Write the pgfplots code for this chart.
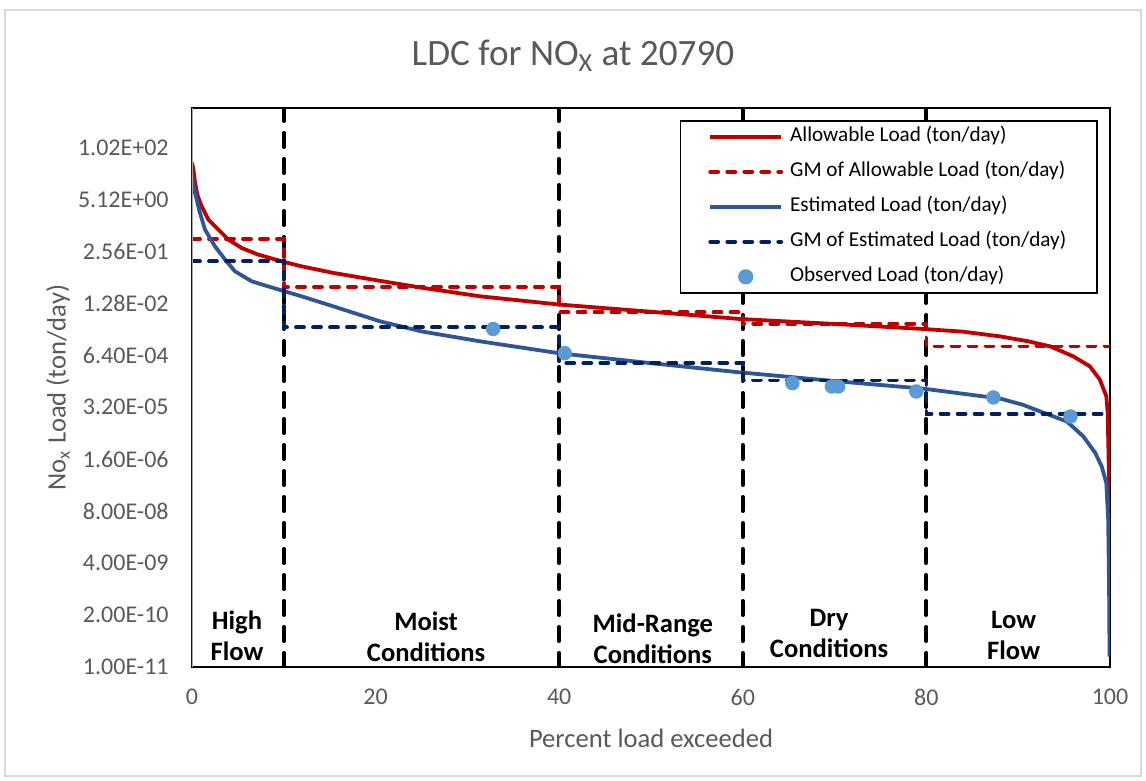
\documentclass[border=0pt]{standalone}
\usepackage{pgfplots}
\pgfplotsset{compat=1.18}
\usepackage{fontspec}
\setmainfont{Carlito}
\definecolor{allowred}{HTML}{C00000}
\definecolor{estblue}{HTML}{2F5597}
\definecolor{gmnavy}{HTML}{002060}
\definecolor{obsblue}{HTML}{5B9BD5}
\definecolor{txtgray}{HTML}{595959}
\begin{document}
\begin{tikzpicture}
\path[use as bounding box] (-96pt,-57pt) rectangle (477pt,333.5pt);
\draw[color=black!15, line width=0.6pt] (-93.5pt,-54.5pt) rectangle (474.5pt,328.5pt);
\node[font=\fontsize{18.6}{22}\selectfont, text=txtgray, anchor=base] at (190.5pt,300.5pt) {LDC for NO\textsubscript{X} at 20790};
\begin{axis}[
    scale only axis,
    width=459pt, height=279.5pt,
    xmin=0, xmax=100,
    ymode=log, ymin=1e-11, ymax=1e3,
    xtick={0,20,40,60,80,100},
    ytick={1e-11,2e-10,4e-9,8e-8,1.6e-6,3.2e-5,6.4e-4,1.28e-2,0.256,5.12,102.4},
    yticklabels={1.00E-11,2.00E-10,4.00E-09,8.00E-08,1.60E-06,3.20E-05,6.40E-04,1.28E-02,2.56E-01,5.12E+00,1.02E+02},
    /pgf/number format/assume math mode=true,
    major tick length=0pt,
    axis line style={black, line width=0.8pt},
    tick label style={font=\fontsize{12}{14}\selectfont, text=txtgray},
    yticklabel style={anchor=east, inner sep=0pt, xshift=-11.5pt},
    xticklabel style={anchor=north, inner sep=0pt, yshift=-11pt},
    label style={font=\fontsize{13.3}{15}\selectfont, text=txtgray},
    xlabel={Percent load exceeded},
    xlabel style={at={(axis description cs:0.5,-0.127)}, anchor=center},
    ylabel={No\textsubscript{x} Load (ton/day)},
    ylabel style={at={(axis description cs:-0.146,0.5)}, anchor=center},
    legend cell align=left,
    legend image code/.code={\draw[mark repeat=2,mark phase=2,#1] plot coordinates {(0pt,0pt) (17.75pt,0pt) (35.5pt,0pt)};},
    legend style={at={(0.987,0.9785)}, anchor=north east, draw=black, line width=0.8pt,
        font=\fontsize{10.6}{12}\selectfont, inner xsep=14pt, inner ysep=1.5pt,
        row sep=4.5pt, column sep=2pt,
        nodes={inner sep=1.5pt, text height=7.5pt, text depth=2.5pt}},
    regime/.style={black, line width=2pt, line cap=round, dash pattern=on 7pt off 6pt, forget plot},
    gm/.style={line width=1.9pt, line cap=round, dash pattern=on 4pt off 4.5pt, const plot},
]
% flow regime boundaries
\addplot[regime] coordinates {(10,1e-11) (10,1e3)};
\addplot[regime] coordinates {(40,1e-11) (40,1e3)};
\addplot[regime] coordinates {(60,1e-11) (60,1e3)};
\addplot[regime] coordinates {(80,1e-11) (80,1e3)};

% allowable load
\addplot[allowred, line width=1.9pt, line join=round] coordinates {
(0,42.7) (0.14,30) (0.33,13.4) (0.6,6.5) (1.05,3.46) (1.78,1.60) (2.87,0.90)
(3.96,0.506) (5.4,0.313) (7.2,0.213) (9.77,0.1445) (11.95,0.108) (15.4,0.0741)
(20,0.049) (25,0.0316) (31.4,0.0192) (40.1,0.0119) (50,7.9e-3) (59.7,5.2e-3)
(70,3.9e-3) (79.7,2.92e-3) (84,2.5e-3) (88,1.91e-3) (91,1.45e-3) (93.5,1.07e-3)
(96,6.03e-4) (97.8,3.39e-4) (98.9,1.57e-4) (99.6,6.0e-5) (99.75,2.29e-5)
(99.85,1.5e-6) (99.95,8.7e-8)};
\addlegendentry{Allowable Load (ton/day)}

\addplot[allowred, gm] coordinates {
(0,0.527) (10,0.033) (40,7.62e-3) (60,3.98e-3) (80,1.07e-3) (100,1.07e-3)};
\addlegendentry{GM of Allowable Load (ton/day)}

% estimated load
\addplot[estblue, line width=1.9pt, line join=round] coordinates {
(0,21.5) (0.15,11) (0.33,7.48) (0.87,2.35) (1.42,0.90) (2.5,0.344) (3.6,0.160)
(4.68,0.0813) (6.5,0.0457) (8.3,0.0341) (10.1,0.0256) (11.95,0.0192)
(15.4,0.01076) (20.5,4.53e-3) (25,2.54e-3) (31.4,1.43e-3) (40.1,7.16e-4)
(50,4.07e-4) (59.7,2.39e-4) (70,1.45e-4) (79.7,9.33e-5) (84,6.97e-5)
(88,5.3e-5) (90.5,3.7e-5) (92.4,2.51e-5) (95.3,1.41e-5) (97.1,5.93e-6)
(98.4,2.29e-6) (99.1,1.05e-6) (99.6,4.03e-7) (99.8,5e-8) (99.9,1e-9)
(99.95,1.82e-11)};
\addlegendentry{Estimated Load (ton/day)}

\addplot[gmnavy, gm] coordinates {
(0,0.1445) (10,3.21e-3) (40,4.10e-4) (60,1.50e-4) (80,2.20e-5) (100,2.20e-5)};
\addlegendentry{GM of Estimated Load (ton/day)}

% observed load
\addplot[only marks, mark=*, mark size=3.4pt, color=obsblue, mark options={draw=obsblue, fill=obsblue}] coordinates {
(32.8,2.92e-3) (40.6,7.24e-4) (65.4,1.29e-4) (69.7,1.06e-4) (70.4,1.06e-4)
(78.9,7.96e-5) (87.3,5.64e-5) (95.7,1.88e-5)};
\addlegendentry{Observed Load (ton/day)}

\draw[color=black!35, line width=1pt] (rel axis cs:0,0) -- (rel axis cs:0,1);

\begin{scope}[font=\fontsize{13.3}{15.5}\selectfont\bfseries]
\node[align=center] at (rel axis cs:0.049,0.0555) {High\\Flow};
\node[align=center] at (rel axis cs:0.255,0.0537) {Moist\\Conditions};
\node[align=center] at (rel axis cs:0.502,0.050) {Mid-Range\\Conditions};
\node[align=center] at (rel axis cs:0.694,0.060) {Dry\\Conditions};
\node[align=center] at (rel axis cs:0.895,0.056) {Low\\Flow};
\end{scope}
\end{axis}
\end{tikzpicture}
\end{document}
